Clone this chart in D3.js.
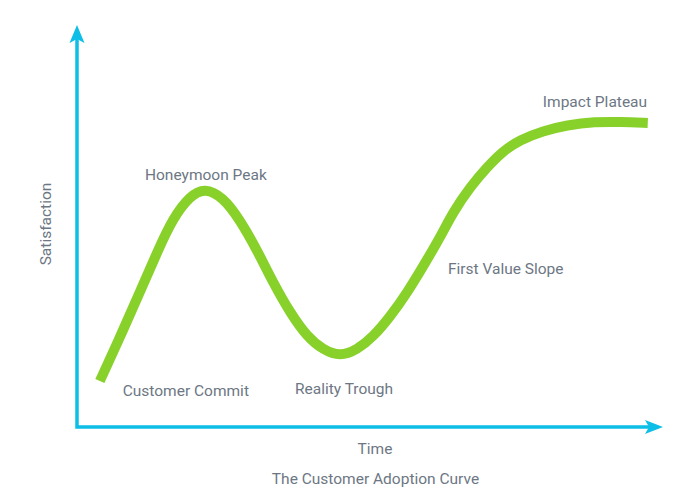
<!DOCTYPE html>
<html>
<head>
<meta charset="utf-8">
<script src="https://cdn.jsdelivr.net/npm/d3@7"></script>
<style>
  html, body { margin: 0; padding: 0; background: #ffffff; }
  svg { display: block; }
  text { font-family: Roboto, "Open Sans", sans-serif; fill: #6d7784; }
</style>
</head>
<body>
<svg id="chart" width="700" height="499"></svg>
<script>
// ---- data (time vs satisfaction, 0-100 units) ----
const time = [3.9, 7.9, 10.8, 13.7, 16.4, 19.3, 21.8, 24.9, 27.8, 30.7, 33.5, 36.4, 39.3, 42.0, 44.9, 47.8, 50.5, 53.4, 56.3, 59.0, 62.0, 64.2, 67.1, 70.0, 72.7, 75.6, 79.5, 83.6, 88.4, 92.7, 97.4];
const satisfaction = [11.5, 24.3, 34.0, 43.8, 52.3, 57.8, 59.8, 57.5, 51.8, 44.3, 36.0, 28.5, 22.5, 19.3, 17.6, 19.3, 22.5, 27.5, 33.5, 40.0, 47.5, 53.8, 60.0, 65.0, 69.0, 71.8, 74.0, 75.5, 76.3, 76.3, 76.0];

const stageNames = ["Customer Commit", "Honeymoon Peak", "Reality Trough", "First Value Slope", "Impact Plateau"];
const stageTime = [7.8, 11.6, 37.2, 63.3, 79.5];
const stageSat = [7.75, 61.75, 8.25, 38.25, 80];

const xTitle = "Time";
const yTitle = "Satisfaction";
const chartTitle = "The Customer Adoption Curve";

// ---- layout ----
const svg = d3.select("#chart");
const x = d3.scaleLinear().domain([0, 100]).range([77, 663]);
const y = d3.scaleLinear().domain([0, 100]).range([427, 27]);

const axisColor = "#0dbfe6";
const lineColor = "#88d12b";

// axes (no ticks, only the domain line)
const xAxis = svg.append("g")
  .attr("transform", `translate(0,${y(0)})`)
  .call(d3.axisBottom(x).tickValues([]).tickSizeOuter(0));
const yAxis = svg.append("g")
  .attr("transform", `translate(${x(0)},0)`)
  .call(d3.axisLeft(y).tickValues([]).tickSizeOuter(0));
xAxis.select(".domain").remove();
yAxis.select(".domain").remove();
// joined axis lines with a clean corner
svg.append("path")
  .attr("d", `M${x(0)},${y(100) + 10} V${y(0)} H${x(100) - 10}`)
  .attr("fill", "none")
  .attr("stroke", axisColor)
  .attr("stroke-width", 3.5)
  .attr("stroke-linejoin", "miter");

// arrowheads
const tipX = x(100), tipY = y(0);
svg.append("path")
  .attr("d", `M${tipX},${tipY} L${tipX - 18},${tipY - 7} L${tipX - 14},${tipY} L${tipX - 18},${tipY + 7} Z`)
  .attr("fill", axisColor);
const tipX2 = x(0), tipY2 = y(100) - 2;
svg.append("path")
  .attr("d", `M${tipX2},${tipY2} L${tipX2 + 7.5},${tipY2 + 18} L${tipX2},${tipY2 + 14} L${tipX2 - 7.5},${tipY2 + 18} Z`)
  .attr("fill", axisColor);

// curve
const pts = time.map((t, i) => [t, satisfaction[i]]);
const line = d3.line()
  .x(d => x(d[0]))
  .y(d => y(d[1]))
  .curve(d3.curveBasis);
svg.append("path")
  .datum(pts)
  .attr("d", line)
  .attr("fill", "none")
  .attr("stroke", lineColor)
  .attr("stroke-width", 10)
  .attr("stroke-linejoin", "round")
  .attr("stroke-linecap", "butt");

// stage labels
svg.append("g").selectAll("text")
  .data(stageNames)
  .join("text")
  .attr("x", (d, i) => x(stageTime[i]))
  .attr("y", (d, i) => y(stageSat[i]))
  .attr("font-size", 15.5)
  .text(d => d);

// axis titles
svg.append("text")
  .attr("x", 375).attr("y", 454)
  .attr("text-anchor", "middle")
  .attr("font-size", 15.5)
  .text(xTitle);
svg.append("text")
  .attr("transform", "translate(51,224) rotate(-90)")
  .attr("text-anchor", "middle")
  .attr("font-size", 15.5)
  .text(yTitle);
svg.append("text")
  .attr("x", 375.5).attr("y", 484)
  .attr("text-anchor", "middle")
  .attr("font-size", 15.5)
  .text(chartTitle);
</script>
</body>
</html>
